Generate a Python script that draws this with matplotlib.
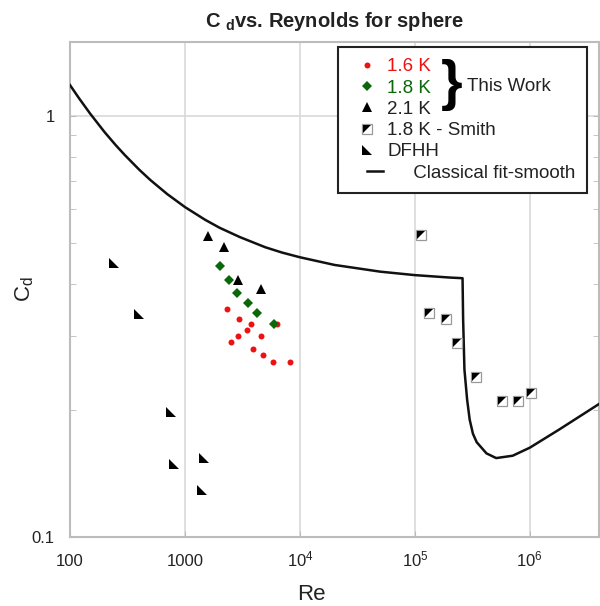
import numpy as np
import matplotlib
matplotlib.use("Agg")
import matplotlib.pyplot as plt
from matplotlib.path import Path
from matplotlib.legend_handler import HandlerTuple, HandlerLine2D

# ---------------- data ----------------
re_16 = [2330, 2950, 3750, 6270, 3480, 2910, 4550, 2500, 3900, 4800, 5830, 8140]
cd_16 = [0.349, 0.330, 0.320, 0.320, 0.310, 0.300, 0.300, 0.290, 0.280, 0.270, 0.260, 0.260]

re_18 = [2015, 2430, 2830, 3510, 4200, 5900]
cd_18 = [0.440, 0.409, 0.379, 0.360, 0.340, 0.320]

re_21 = [1590, 2180, 2890, 4550]
cd_21 = [0.519, 0.488, 0.408, 0.388]

re_smith = [1.135e5, 1.33e5, 1.86e5, 2.31e5, 3.41e5, 5.71e5, 7.87e5, 1.03e6]
cd_smith = [0.522, 0.340, 0.330, 0.289, 0.240, 0.210, 0.210, 0.220]

re_dfhh = [241, 400, 760, 807, 1460, 1410]
cd_dfhh = [0.448, 0.339, 0.198, 0.149, 0.154, 0.1295]

re_fit = [100, 120, 150, 200, 250, 300, 400, 500, 700, 1000, 1500, 2000, 3000,
          5000, 7000, 1e4, 2e4, 5e4, 1e5, 2e5, 2.6e5,
          2.63e5, 2.7e5, 2.85e5, 3.0e5, 3.2e5, 3.45e5, 4.2e5, 5.1e5, 7.1e5,
          1.0e6, 1.8e6, 4.0e6]
cd_fit = [1.185, 1.102, 1.013, 0.916, 0.853, 0.808, 0.746, 0.705, 0.653, 0.608,
          0.567, 0.543, 0.516, 0.488, 0.474, 0.462, 0.443, 0.427, 0.419, 0.4135,
          0.412, 0.33, 0.25, 0.212, 0.19, 0.176, 0.168, 0.158, 0.154, 0.156,
          0.163, 0.180, 0.207]

x_ticks = [100, 1000, 1e4, 1e5, 1e6]
x_ticklabels = ["100", "1000", r"$\mathregular{10^{4}}$", r"$\mathregular{10^{5}}$",
                r"$\mathregular{10^{6}}$"]
y_ticks = [0.1, 1]
y_ticklabels = ["0.1", "1"]

labels = ["1.6 K", "1.8 K", "2.1 K", "1.8 K - Smith", "DFHH", "     Classical fit-smooth"]

# ---------------- style ----------------
plt.rcParams["font.family"] = ["Liberation Sans", "DejaVu Sans"]
plt.rcParams["mathtext.fontset"] = "custom"
plt.rcParams["mathtext.rm"] = "Liberation Sans"
plt.rcParams["mathtext.it"] = "Liberation Sans:italic"
plt.rcParams["mathtext.bf"] = "Liberation Sans:bold"

RED = "#ee1111"
GREEN = "#0a680a"
GRID = "#d9d9d9"
SPINE = "#bcbcbc"
TXT = "#222222"

fig = plt.figure(figsize=(6.0, 6.06), dpi=100)
ax = fig.add_axes([70 / 600, 1 - 537 / 606, 529 / 600, 495 / 606])
ax.set_xscale("log")
ax.set_yscale("log")
ax.set_xlim(100, 4e6)
ax.set_ylim(0.1, 1.5)

ax.grid(True, which="major", color=GRID, lw=1.2, zorder=0)
ax.set_axisbelow(True)
for s in ax.spines.values():
    s.set_color(SPINE)
    s.set_linewidth(1.5)

tri_dfhh = Path([(-1, 1), (-1, -1), (1, -1), (-1, 1)],
                [Path.MOVETO, Path.LINETO, Path.LINETO, Path.CLOSEPOLY])
tri_ul = Path([(-1, -1), (-1, 1), (1, 1), (-1, -1)],
              [Path.MOVETO, Path.LINETO, Path.LINETO, Path.CLOSEPOLY])

h_fit, = ax.plot(re_fit, cd_fit, color="#111111", lw=1.8, zorder=3)
h16, = ax.plot(re_16, cd_16, ls="none", marker="o", ms=4.3, color=RED, mew=0, zorder=4)
h18, = ax.plot(re_18, cd_18, ls="none", marker="D", ms=5.0, color=GREEN, mew=0, zorder=4)
h21, = ax.plot(re_21, cd_21, ls="none", marker="^", ms=7.0, color="black", mew=0, zorder=4)
h_sq, = ax.plot(re_smith, cd_smith, ls="none", marker="s", ms=6.5, mfc="white",
                mec="#999999", mew=0.9, zorder=4)
h_sqt, = ax.plot(re_smith, cd_smith, ls="none", marker=tri_ul, ms=6.0, color="black",
                 mew=0, zorder=5)
h_df, = ax.plot(re_dfhh, cd_dfhh, ls="none", marker=tri_dfhh, ms=6.5, color="black",
                mew=0, zorder=4)

ax.set_xticks(x_ticks)
ax.set_xticklabels(x_ticklabels, va="baseline")
ax.xaxis.set_minor_locator(matplotlib.ticker.NullLocator())
ax.set_yticks(y_ticks)
ax.set_yticklabels(y_ticklabels)
ax.tick_params(axis="x", which="major", direction="in", length=4, color=SPINE,
               labelsize=12, pad=21, labelcolor=TXT)
ax.tick_params(axis="y", which="major", direction="in", length=4, color=SPINE,
               labelsize=12, pad=11, labelcolor=TXT, right=True)
ax.tick_params(axis="y", which="minor", direction="in", length=4, color=SPINE,
               left=True, right=True, labelleft=False)

ax.set_xlabel("Re", fontsize=16, labelpad=11, color=TXT)
ax.xaxis.label.set_x(0.456)
ax.set_ylabel(r"C$_{\mathregular{d}}$", fontsize=16, color=TXT)
ax.yaxis.set_label_coords(-0.064, 0.5)
ax.set_title(r"C $_{\mathbf{d}}$vs. Reynolds for sphere", fontsize=14.5,
             fontweight="bold", pad=11, color=TXT)


class ShortLineHandler(HandlerLine2D):
    def create_artists(self, legend, orig_handle, xdescent, ydescent, width, height,
                       fontsize, trans):
        arts = super().create_artists(legend, orig_handle, xdescent, ydescent, width,
                                      height, fontsize, trans)
        line = arts[0]
        yd = np.asarray(line.get_ydata())
        line.set_data(np.linspace(-xdescent + 0.5 * width, -xdescent + width, len(yd)), yd)
        return arts


leg = ax.legend([h16, h18, h21, (h_sq, h_sqt), h_df, h_fit], labels,
                handler_map={tuple: HandlerTuple(ndivide=1, pad=0),
                             h_fit: ShortLineHandler()},
                loc="upper right", bbox_to_anchor=(0.977, 0.99), fontsize=13.5,
                frameon=True, fancybox=False, edgecolor=TXT, framealpha=1,
                borderpad=0.6, labelspacing=0.22, handlelength=1.8,
                handletextpad=0.2, borderaxespad=0)
leg.get_frame().set_linewidth(1.5)
leg.set_zorder(6)
txts = leg.get_texts()
txts[0].set_color(RED)
txts[1].set_color(GREEN)
for t in txts[2:]:
    t.set_color(TXT)

ax.text(0.722, 0.913, "}", transform=ax.transAxes, fontsize=40, fontweight="bold",
        ha="center", va="center", color="black", zorder=7)
ax.text(0.750, 0.911, "This Work", transform=ax.transAxes, fontsize=13.5, ha="left",
        va="center", color=TXT, zorder=7)

fig.savefig("out.png", dpi=100)
